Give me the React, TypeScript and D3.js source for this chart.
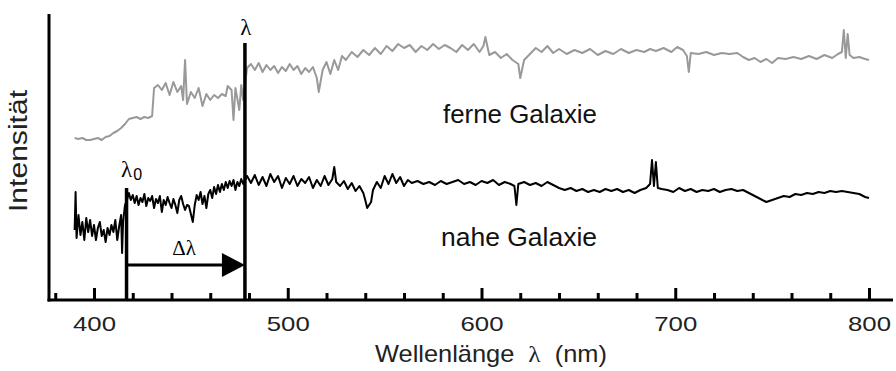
import { useEffect, useRef } from "react";
import * as d3 from "d3";

// wavelength (nm), intensity (arb. units)
const farSpectrum: [number, number][] = [
  [390, 162], [392, 161], [394, 162], [396, 160], [398, 160], [400, 161], [402, 162], [404, 160],
  [406, 163], [408, 164], [410, 167], [412, 169], [414, 172], [416, 176], [418, 181], [420, 182],
  [422, 183], [424, 181], [426, 183], [428, 182], [430, 184], [431, 212], [433, 215], [435, 210],
  [437, 217], [439, 205], [441, 218], [443, 208], [445, 214], [446, 200], [447, 240], [448, 196],
  [450, 208], [452, 202], [454, 212], [456, 194], [458, 206], [460, 200], [462, 205], [464, 202],
  [466, 206], [468, 204], [469, 214], [471, 210], [472, 180], [473, 212], [475, 190], [476, 215],
  [477, 200], [479, 232], [481, 236], [483, 230], [485, 237], [487, 228], [489, 235], [491, 230],
  [493, 234], [495, 227], [497, 233], [499, 229], [501, 236], [503, 230], [505, 234], [507, 226],
  [509, 232], [511, 228], [513, 233], [515, 222], [516, 208], [518, 230], [520, 238], [522, 226],
  [524, 240], [526, 230], [528, 244], [530, 240], [533, 248], [536, 243], [539, 250], [542, 245],
  [545, 252], [548, 246], [551, 254], [554, 249], [557, 256], [560, 252], [563, 255], [566, 248],
  [569, 254], [572, 250], [575, 256], [578, 251], [581, 255], [584, 252], [587, 248], [590, 255],
  [593, 250], [596, 256], [599, 248], [601, 254], [602, 263], [604, 245], [607, 248], [610, 242],
  [613, 246], [616, 240], [619, 236], [620, 222], [622, 240], [625, 246], [628, 252], [631, 248],
  [634, 254], [637, 247], [640, 251], [644, 246], [648, 250], [652, 247], [656, 251], [660, 245],
  [664, 249], [668, 246], [672, 251], [676, 247], [680, 250], [684, 248], [687, 251], [690, 249],
  [694, 252], [698, 248], [701, 253], [704, 250], [706, 244], [707, 228], [708, 247], [712, 246],
  [716, 248], [720, 245], [724, 247], [728, 246], [732, 247], [735, 243], [738, 240], [741, 242],
  [744, 238], [747, 241], [750, 237], [753, 242], [757, 241], [761, 243], [765, 241], [769, 244],
  [773, 241], [777, 245], [781, 242], [784, 246], [786, 248], [787, 270], [788, 242], [789, 266],
  [790, 245], [792, 242], [795, 243], [798, 241], [800, 240],
];

const nearSpectrum: [number, number][] = [
  [390, 70], [390.5, 108], [391, 62], [392, 85], [393, 65], [394, 78], [395, 60], [396, 82],
  [397, 68], [398, 80], [399, 64], [400, 75], [401, 60], [402, 72], [403, 78], [404, 64],
  [405, 70], [406, 58], [407, 72], [408, 65], [409, 75], [410, 68], [411, 80], [412, 60],
  [413, 74], [414, 85], [414.5, 47], [415, 78], [416, 95], [417, 100], [418, 107], [419, 100],
  [420, 105], [421, 97], [422, 104], [423, 95], [424, 102], [425, 98], [426, 106], [427, 94],
  [428, 102], [429, 99], [430, 104], [431, 92], [432, 101], [433, 97], [434, 104], [435, 88],
  [436, 100], [437, 95], [438, 103], [439, 97], [440, 92], [441, 101], [442, 95], [443, 87],
  [444, 100], [445, 104], [446, 96], [447, 90], [448, 95], [449, 94], [450, 86], [451, 78],
  [452, 95], [453, 105], [454, 100], [455, 108], [456, 96], [457, 104], [458, 92], [459, 106],
  [460, 110], [461, 102], [462, 113], [463, 106], [464, 115], [465, 108], [466, 116], [467, 110],
  [468, 118], [469, 112], [470, 119], [471, 114], [472, 120], [473, 110], [474, 118], [475, 114],
  [476, 121], [477, 116], [479, 124], [481, 117], [483, 125], [485, 115], [487, 123], [489, 114],
  [491, 126], [493, 118], [495, 124], [497, 112], [499, 122], [501, 116], [503, 124], [505, 114],
  [507, 121], [509, 117], [511, 123], [513, 112], [515, 120], [517, 114], [519, 124], [521, 115],
  [523, 121], [524, 133], [525, 118], [527, 114], [529, 119], [531, 111], [533, 117], [535, 109],
  [537, 114], [539, 107], [540, 100], [541, 92], [543, 98], [544, 110], [546, 118], [548, 112],
  [550, 124], [552, 116], [554, 126], [556, 117], [558, 123], [560, 114], [562, 120], [564, 117],
  [567, 119], [570, 116], [573, 118], [576, 115], [579, 119], [582, 116], [585, 118], [588, 120],
  [591, 116], [594, 118], [597, 115], [600, 119], [603, 117], [606, 120], [609, 115], [612, 118],
  [615, 116], [617, 114], [618, 95], [619, 116], [622, 118], [625, 115], [628, 117], [631, 114],
  [634, 118], [637, 115], [640, 112], [643, 110], [646, 112], [649, 109], [652, 111], [655, 108],
  [658, 110], [661, 108], [664, 111], [667, 109], [670, 111], [673, 108], [676, 110], [679, 107],
  [682, 110], [685, 112], [687, 116], [688, 140], [689, 114], [690, 138], [691, 112], [693, 111],
  [696, 110], [699, 108], [702, 112], [705, 109], [708, 111], [711, 108], [714, 110], [717, 109],
  [720, 111], [723, 108], [726, 110], [729, 111], [732, 109], [735, 110], [738, 107], [741, 104],
  [744, 101], [747, 98], [750, 100], [753, 102], [756, 104], [759, 103], [762, 106], [765, 105],
  [768, 107], [771, 106], [774, 108], [777, 107], [780, 109], [783, 108], [786, 109], [789, 108],
  [792, 107], [795, 106], [798, 103], [800, 102],
];

const majorTicks = [400, 500, 600, 700, 800];
const minorTicks = [380, 420, 440, 460, 480, 520, 540, 560, 580, 620, 640, 660, 680, 720, 740, 760, 780];
const tickLabels = ["400", "500", "600", "700", "800"];

const lambda0 = 416.8;
const lambda = 477.9;

const SANS = "'Liberation Sans', Arial, Helvetica, sans-serif";
const SERIF = "'Liberation Serif', 'Times New Roman', serif";

const Chart = () => {
  const ref = useRef<SVGSVGElement>(null);

  useEffect(() => {
    const width = 896;
    const height = 371;
    const margin = { top: 14, left: 49, axisY: 300 };

    const svg = d3.select(ref.current).attr("width", width).attr("height", height).html("");

    const x = d3.scaleLinear().domain([400, 800]).range([94, 869]);
    const y = d3.scaleLinear().domain([0, 286]).range([margin.axisY, margin.top]);

    const line = d3
      .line<[number, number]>()
      .x((d) => x(d[0]))
      .y((d) => y(d[1]));

    // spectra
    svg
      .append("path")
      .datum(farSpectrum)
      .attr("d", line)
      .attr("fill", "none")
      .attr("stroke", "#999")
      .attr("stroke-width", 2)
      .attr("stroke-linejoin", "round");

    svg
      .append("path")
      .datum(nearSpectrum)
      .attr("d", line)
      .attr("fill", "none")
      .attr("stroke", "#000")
      .attr("stroke-width", 2)
      .attr("stroke-linejoin", "round");

    // axes lines
    svg
      .append("line")
      .attr("x1", margin.left)
      .attr("x2", margin.left)
      .attr("y1", margin.top)
      .attr("y2", margin.axisY + 1.5)
      .attr("stroke", "#000")
      .attr("stroke-width", 3);

    svg
      .append("line")
      .attr("x1", margin.left - 1.5)
      .attr("x2", 893)
      .attr("y1", margin.axisY)
      .attr("y2", margin.axisY)
      .attr("stroke", "#000")
      .attr("stroke-width", 3);

    // major ticks with labels
    const major = svg
      .append("g")
      .attr("transform", `translate(0,${margin.axisY})`)
      .call(
        d3
          .axisBottom(x)
          .tickValues(majorTicks)
          .tickFormat((_, i) => tickLabels[i])
          .tickSizeInner(-12)
          .tickSizeOuter(0)
          .tickPadding(16)
      );
    major.select(".domain").remove();
    major.selectAll("line").attr("stroke", "#000").attr("stroke-width", 3);
    major
      .selectAll("text")
      .attr("fill", "#222")
      .style("font-family", SANS)
      .style("font-size", "21px")
      .attr("textLength", 43)
      .attr("lengthAdjust", "spacingAndGlyphs");

    // minor ticks
    const minor = svg
      .append("g")
      .attr("transform", `translate(0,${margin.axisY})`)
      .call(d3.axisBottom(x).tickValues(minorTicks).tickFormat(() => "").tickSizeInner(-7).tickSizeOuter(0));
    minor.select(".domain").remove();
    minor.selectAll("line").attr("stroke", "#000").attr("stroke-width", 3);

    // lambda markers
    svg
      .append("line")
      .attr("x1", x(lambda))
      .attr("x2", x(lambda))
      .attr("y1", 43)
      .attr("y2", margin.axisY)
      .attr("stroke", "#000")
      .attr("stroke-width", 3.5);

    svg
      .append("line")
      .attr("x1", x(lambda0))
      .attr("x2", x(lambda0))
      .attr("y1", 188)
      .attr("y2", margin.axisY)
      .attr("stroke", "#000")
      .attr("stroke-width", 3.5);

    // delta lambda arrow
    const arrowY = 265;
    svg
      .append("line")
      .attr("x1", x(lambda0))
      .attr("x2", x(lambda) - 20)
      .attr("y1", arrowY)
      .attr("y2", arrowY)
      .attr("stroke", "#000")
      .attr("stroke-width", 3);
    svg
      .append("path")
      .attr(
        "d",
        `M${x(lambda) - 23},${arrowY - 12} L${x(lambda)},${arrowY} L${x(lambda) - 23},${arrowY + 12} Z`
      )
      .attr("fill", "#000");

    // labels
    svg
      .append("text")
      .attr("x", x(lambda) + 1)
      .attr("y", 35)
      .attr("text-anchor", "middle")
      .style("font-family", SERIF)
      .style("font-size", "23px")
      .text("λ");

    const l0 = svg
      .append("text")
      .attr("x", 121)
      .attr("y", 177)
      .style("font-family", SERIF)
      .style("font-size", "23px");
    l0.append("tspan").text("λ");
    l0.append("tspan")
      .attr("dy", 3)
      .attr("dx", 1)
      .style("font-family", SANS)
      .style("font-size", "16px")
      .text("0");

    svg
      .append("text")
      .attr("x", 184)
      .attr("y", 255)
      .attr("text-anchor", "middle")
      .style("font-family", SERIF)
      .style("font-size", "21px")
      .text("Δλ");

    svg
      .append("text")
      .attr("x", 520)
      .attr("y", 123)
      .attr("text-anchor", "middle")
      .attr("fill", "#111")
      .style("font-family", SANS)
      .style("font-size", "25px")
      .attr("textLength", 154)
      .attr("lengthAdjust", "spacingAndGlyphs")
      .text("ferne Galaxie");

    svg
      .append("text")
      .attr("x", 519)
      .attr("y", 246)
      .attr("text-anchor", "middle")
      .attr("fill", "#111")
      .style("font-family", SANS)
      .style("font-size", "25px")
      .attr("textLength", 156)
      .attr("lengthAdjust", "spacingAndGlyphs")
      .text("nahe Galaxie");

    svg
      .append("text")
      .attr("transform", "translate(27,151) rotate(-90)")
      .attr("text-anchor", "middle")
      .attr("fill", "#222")
      .style("font-family", SANS)
      .style("font-size", "25px")
      .attr("textLength", 122)
      .attr("lengthAdjust", "spacingAndGlyphs")
      .text("Intensität");

    const title = svg
      .append("text")
      .attr("x", 375)
      .attr("y", 362)
      .attr("fill", "#222")
      .style("font-family", SANS)
      .style("font-size", "24px")
      .attr("textLength", 232)
      .attr("lengthAdjust", "spacingAndGlyphs");
    title.append("tspan").text("Wellenlänge\u00a0\u00a0");
    title.append("tspan").style("font-family", SERIF).text("λ");
    title.append("tspan").text("\u00a0\u00a0(nm)");
  }, []);

  return <svg ref={ref} style={{ position: "absolute", left: 0, top: 0 }} />;
};

export default function App() {
  return <Chart />;
}
